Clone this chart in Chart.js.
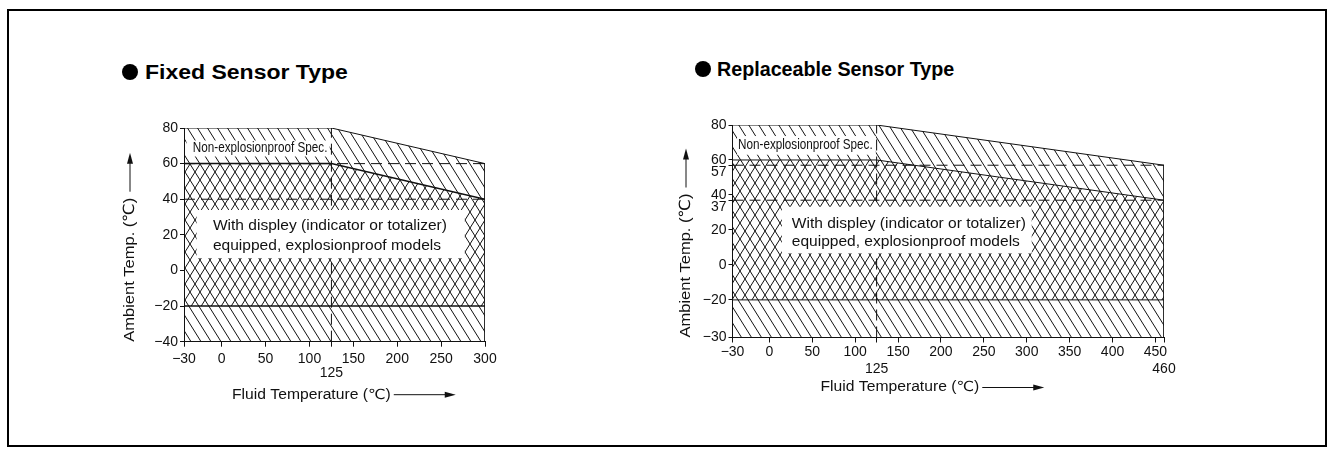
<!DOCTYPE html>
<html>
<head>
<meta charset="utf-8">
<title>Ambient / Fluid Temperature Ranges</title>
<script src="https://cdn.jsdelivr.net/npm/chart.js@4/dist/chart.umd.min.js"></script>
<style>
  html, body { margin: 0; padding: 0; background: #fff; }
  #page { position: relative; width: 1334px; height: 455px; overflow: hidden;
          font-family: 'Liberation Sans', Arial, Helvetica, sans-serif; color: #000; }
  .frame { position: absolute; left: 7px; top: 9px; width: 1320px; height: 438px;
           border: 2px solid #000; box-sizing: border-box; }
  .dot { position: absolute; width: 16px; height: 16px; border-radius: 50%; background: #000; }
  .heading { position: absolute; font-weight: bold; font-size: 20px; line-height: 20px;
             white-space: nowrap; transform-origin: 0 50%; }
  canvas { position: absolute; }
</style>
</head>
<body>
<div id="page">
  <div class="frame"></div>

  <div class="dot" style="left:122px; top:64px;"></div>
  <div class="heading" style="left:145px; top:62px; transform: scaleX(1.15);">Fixed Sensor Type</div>

  <div class="dot" style="left:695px; top:61px;"></div>
  <div class="heading" style="left:717px; top:59px; transform: scaleX(0.985);">Replaceable Sensor Type</div>

  <canvas id="fixedChart" width="440" height="320" style="left:90px; top:100px;"></canvas>
  <canvas id="replChart" width="540" height="320" style="left:670px; top:95px;"></canvas>
</div>

<script>
// ---------- Fixed sensor type ----------
const fixedXTicks  = [-30, 0, 50, 100, 125, 150, 200, 250, 300];
const fixedXLabels = ['\u221230', '0', '50', '100', '125', '150', '200', '250', '300'];
const fixedYTicks  = [-40, -20, 0, 20, 40, 60, 80];
const fixedYLabels = ['\u221240', '\u221220', '0', '20', '40', '60', '80'];
const fixedFluid        = [-30, 125, 300];  // fluid temperature breakpoints (°C)
const fixedGeneralMax   = [80, 80, 60];     // non-explosionproof upper ambient limit
const fixedExplosionMax = [60, 60, 40];     // explosionproof (with display) upper ambient limit
const fixedGeneralMin   = -40;              // non-explosionproof lower ambient limit
const fixedExplosionMin = -20;              // explosionproof lower ambient limit

// ---------- Replaceable sensor type ----------
const replXTicks  = [-30, 0, 50, 100, 125, 150, 200, 250, 300, 350, 400, 450, 460];
const replXLabels = ['\u221230', '0', '50', '100', '125', '150', '200', '250', '300', '350', '400', '450', '460'];
const replYTicks  = [-30, -20, 0, 20, 37, 40, 57, 60, 80];
const replYLabels = ['\u221230', '\u221220', '0', '20', '37', '40', '57', '60', '80'];
const replFluid        = [-30, 125, 460];
const replGeneralMax   = [80, 80, 57];
const replExplosionMax = [60, 60, 37];
const replGeneralMin   = -30;
const replExplosionMin = -20;

const FONT = "'Liberation Sans', Arial, Helvetica, 'DejaVu Sans', 'Noto Sans CJK JP', sans-serif";
Chart.defaults.font.family = FONT;
Chart.defaults.color = '#111';

// Linear scale whose value-to-pixel mapping is piecewise linear between knots
// ([value, position] pairs), used for the stretched first interval of each axis.
class WarpedScale extends Chart.LinearScale {
  static id = 'warped';
  static defaults = Chart.LinearScale.defaults;
  _knots() { return this.options.knots || []; }
  _fwd(v) {
    const k = this._knots();
    if (k.length < 2) return v;
    let i = 1;
    while (i < k.length - 1 && v > k[i][0]) i++;
    const [a0, b0] = k[i - 1], [a1, b1] = k[i];
    return b0 + (v - a0) * (b1 - b0) / (a1 - a0);
  }
  _inv(d) {
    const k = this._knots();
    if (k.length < 2) return d;
    let i = 1;
    while (i < k.length - 1 && d > k[i][1]) i++;
    const [a0, b0] = k[i - 1], [a1, b1] = k[i];
    return a0 + (d - b0) * (a1 - a0) / (b1 - b0);
  }
  getPixelForValue(value) {
    const lo = this._fwd(this.min), hi = this._fwd(this.max);
    return this.getPixelForDecimal((this._fwd(value) - lo) / (hi - lo));
  }
  getValueForPixel(pixel) {
    const lo = this._fwd(this.min), hi = this._fwd(this.max);
    return this._inv(lo + this.getDecimalForPixel(pixel) * (hi - lo));
  }
}
Chart.register(WarpedScale);

// Diagonal hatch tiles: dir 1 = "\" , dir -1 = "/"
function hatch(dir) {
  const w = 10, h = 16;
  const c = document.createElement('canvas');
  c.width = w; c.height = h;
  const g = c.getContext('2d');
  g.strokeStyle = '#111';
  g.lineWidth = 1;
  for (const o of [-w, 0, w]) {
    g.beginPath();
    if (dir > 0) { g.moveTo(o - w, -h); g.lineTo(o + 2 * w, 2 * h); }
    else         { g.moveTo(o - w, 2 * h); g.lineTo(o + 2 * w, -h); }
    g.stroke();
  }
  return g.createPattern(c, 'repeat');
}
const backHatch = hatch(1);
const fwdHatch = hatch(-1);

// White label boxes and axis titles with arrows
const decor = {
  id: 'decor',
  afterDatasetsDraw(chart, args, opts) {
    const { ctx, scales: { x, y } } = chart;
    ctx.save();
    for (const b of opts.boxes) {
      const l = x.getPixelForValue(b.x0), r = x.getPixelForValue(b.x1);
      const t = y.getPixelForValue(b.y1), btm = y.getPixelForValue(b.y0);
      ctx.fillStyle = '#fff';
      ctx.fillRect(l, t, r - l, btm - t);
      ctx.fillStyle = '#111';
      ctx.font = b.size + 'px ' + FONT;
      ctx.textBaseline = 'middle';
      ctx.textAlign = 'left';
      b.lines.forEach((line, i) => {
        ctx.save();
        ctx.translate(x.getPixelForValue(b.tx), y.getPixelForValue(b.ty[i]));
        ctx.scale(b.sx, 1);
        ctx.fillText(line, 0, 0);
        ctx.restore();
      });
    }
    ctx.restore();
  },
  afterDraw(chart, args, opts) {
    const { ctx, chartArea: a } = chart;
    ctx.save();
    ctx.fillStyle = '#111';
    ctx.strokeStyle = '#111';
    ctx.lineWidth = 1;
    ctx.font = opts.titleSize + 'px ' + FONT;
    ctx.textBaseline = 'middle';
    ctx.textAlign = 'left';

    // vertical title, reading upwards, followed by an arrow
    const yt = opts.yTitle;
    const yx = a.left - yt.dx, y0 = a.bottom - yt.dy;
    const along = yt.length / ctx.measureText(yt.text).width;
    ctx.save();
    ctx.translate(yx, y0);
    ctx.rotate(-Math.PI / 2);
    ctx.scale(along, yt.sy);
    ctx.fillText(yt.text, 0, 0);
    ctx.restore();
    const ya0 = y0 - yt.length - yt.gap, ya1 = ya0 - yt.len;
    ctx.beginPath(); ctx.moveTo(yx, ya0); ctx.lineTo(yx, ya1 + 8); ctx.stroke();
    ctx.beginPath(); ctx.moveTo(yx, ya1); ctx.lineTo(yx - 3, ya1 + 11); ctx.lineTo(yx + 3, ya1 + 11); ctx.closePath(); ctx.fill();

    // horizontal title followed by an arrow
    const xt = opts.xTitle;
    const xx = a.left + xt.dx, xy = a.bottom + xt.dy;
    const xw = ctx.measureText(xt.text).width * xt.sx;
    ctx.save();
    ctx.translate(xx, xy);
    ctx.scale(xt.sx, 1);
    ctx.fillText(xt.text, 0, 0);
    ctx.restore();
    const xa0 = xx + xw + xt.gap, xa1 = xa0 + xt.len;
    ctx.beginPath(); ctx.moveTo(xa0, xy); ctx.lineTo(xa1 - 8, xy); ctx.stroke();
    ctx.beginPath(); ctx.moveTo(xa1, xy); ctx.lineTo(xa1 - 11, xy - 3); ctx.lineTo(xa1 - 11, xy + 3); ctx.closePath(); ctx.fill();
    ctx.restore();
  }
};

function rangeDatasets(fluid, genMax, expMax, genMin, expMin, lineW) {
  const xmin = fluid[0], xmax = fluid[fluid.length - 1];
  const ink = '#111';
  const base = { pointRadius: 0, tension: 0, borderColor: ink, borderWidth: 1 };
  return [
    { ...base, label: 'Non-explosionproof',
      data: fluid.map((v, i) => ({ x: v, y: genMax[i] })).concat([{ x: xmax, y: genMin }]),
      fill: 'start', backgroundColor: backHatch },
    { ...base, label: 'Explosionproof with display', borderWidth: lineW,
      data: fluid.map((v, i) => ({ x: v, y: expMax[i] })),
      fill: { value: expMin }, backgroundColor: fwdHatch },
    { ...base, label: 'Lower limit', borderWidth: lineW, fill: false,
      data: [{ x: xmin, y: expMin }, { x: xmax, y: expMin }] },
    { ...base, label: 'Upper limit at max fluid', fill: false, borderDash: [11, 6],
      data: [{ x: xmin, y: genMax[genMax.length - 1] }, { x: xmax, y: genMax[genMax.length - 1] }] },
    { ...base, label: 'Explosionproof limit at max fluid', fill: false, borderDash: [11, 6],
      data: [{ x: xmin, y: expMax[expMax.length - 1] }, { x: xmax, y: expMax[expMax.length - 1] }] },
    { ...base, label: 'Fluid breakpoint', fill: false, borderDash: [11, 6],
      data: [{ x: fluid[1], y: genMin }, { x: fluid[1], y: genMax[1] }] }
  ];
}

function axisOptions(cfg) {
  return {
    x: {
      type: 'warped', min: cfg.xTicks[0], max: cfg.xTicks[cfg.xTicks.length - 1],
      knots: cfg.xKnots, bounds: 'data',
      afterBuildTicks: s => { s.ticks = cfg.xTicks.map(v => ({ value: v })); },
      afterFit: s => { s.height = cfg.xAxisH; },
      grid: { drawOnChartArea: false, drawTicks: true, tickLength: 5, color: '#111' },
      border: { display: true, color: '#111', width: 1 },
      ticks: {
        autoSkip: false, maxRotation: 0, padding: cfg.xPad,
        font: { size: 14, lineHeight: cfg.xLine },
        callback: (v, i) => cfg.xDrop.includes(cfg.xTicks[i]) ? ['', cfg.xLabels[i]] : cfg.xLabels[i]
      }
    },
    y: {
      type: 'warped', min: cfg.yTicks[0], max: cfg.yTicks[cfg.yTicks.length - 1],
      knots: cfg.yKnots, bounds: 'data',
      afterBuildTicks: s => { s.ticks = cfg.yTicks.map(v => ({ value: v })); },
      afterFit: s => { s.width = cfg.yAxisW; },
      grid: { drawOnChartArea: false, drawTicks: true, tickLength: 4, color: '#111' },
      border: { display: true, color: '#111', width: 1 },
      ticks: {
        autoSkip: false, padding: cfg.yPad,
        font: { size: 14, lineHeight: 0.95 },
        callback: (v, i) => cfg.yDrop.includes(cfg.yTicks[i]) ? ['', cfg.yLabels[i]] : cfg.yLabels[i]
      }
    }
  };
}

function build(id, cfg) {
  return new Chart(document.getElementById(id), {
    type: 'line',
    data: { datasets: rangeDatasets(cfg.fluid, cfg.genMax, cfg.expMax, cfg.genMin, cfg.expMin, cfg.lineW) },
    options: {
      responsive: false, animation: false, events: [],
      layout: { padding: cfg.padding },
      scales: axisOptions(cfg),
      plugins: {
        legend: { display: false }, tooltip: { enabled: false }, title: { display: false },
        decor: cfg.decor
      }
    },
    plugins: [decor]
  });
}

build('fixedChart', {
  fluid: fixedFluid, genMax: fixedGeneralMax, expMax: fixedExplosionMax,
  genMin: fixedGeneralMin, expMin: fixedExplosionMin, lineW: 1.5,
  xTicks: fixedXTicks, xLabels: fixedXLabels, xDrop: [125], xKnots: [[-30, -43], [0, 0], [300, 300]],
  yTicks: fixedYTicks, yLabels: fixedYLabels, yDrop: [], yKnots: [],
  xAxisH: 58, yAxisW: 94, xPad: 5, yPad: 2, xLine: 1.0,
  padding: { left: 0, top: 28, right: 45, bottom: 20.3 },
  decor: {
    titleSize: 14,
    yTitle: { text: 'Ambient Temp. (\u2103)', dx: 54, dy: 0, sy: 1.1, length: 144, gap: 6, len: 39 },
    xTitle: { text: 'Fluid Temperature (\u2103)', dx: 48, dy: 53, sx: 1.12, gap: 3, len: 62 },
    boxes: [
      { x0: -28, x1: 123, y0: 64, y1: 73, tx: -23, ty: [68.7], size: 15, sx: 0.78,
        lines: ['Non-explosionproof Spec.'] },
      { x0: -20, x1: 277, y0: 7, y1: 34, tx: -7, ty: [24.7, 13.8], size: 14, sx: 1.11,
        lines: ['With displey (indicator or totalizer)', 'equipped, explosionproof models'] }
    ]
  }
});

build('replChart', {
  fluid: replFluid, genMax: replGeneralMax, expMax: replExplosionMax,
  genMin: replGeneralMin, expMin: replExplosionMin, lineW: 1,
  xTicks: replXTicks, xLabels: replXLabels, xDrop: [125, 460], xKnots: [[-30, -43], [0, 0], [460, 460]],
  yTicks: replYTicks, yLabels: replYLabels, yDrop: [37, 57], yKnots: [[-30, -41.5], [-20, -20], [80, 80]],
  xAxisH: 57.5, yAxisW: 62.5, xPad: 2, yPad: 2, xLine: 1.15,
  padding: { left: 0, top: 30, right: 46, bottom: 20 },
  decor: {
    titleSize: 14,
    yTitle: { text: 'Ambient Temp. (\u2103)', dx: 46.5, dy: 0, sy: 1.1, length: 144, gap: 6, len: 39 },
    xTitle: { text: 'Fluid Temperature (\u2103)', dx: 88, dy: 50, sx: 1.12, gap: 3, len: 62 },
    boxes: [
      { x0: -26.3, x1: 124, y0: 63, y1: 73.7, tx: -25.5, ty: [68.6], size: 15, sx: 0.78,
        lines: ['Non-explosionproof Spec.'] },
      { x0: 14.5, x1: 305.8, y0: 6.7, y1: 33.3, tx: 26.1, ty: [23.3, 13.3], size: 14, sx: 1.11,
        lines: ['With displey (indicator or totalizer)', 'equipped, explosionproof models'] }
    ]
  }
});
</script>
</body>
</html>
